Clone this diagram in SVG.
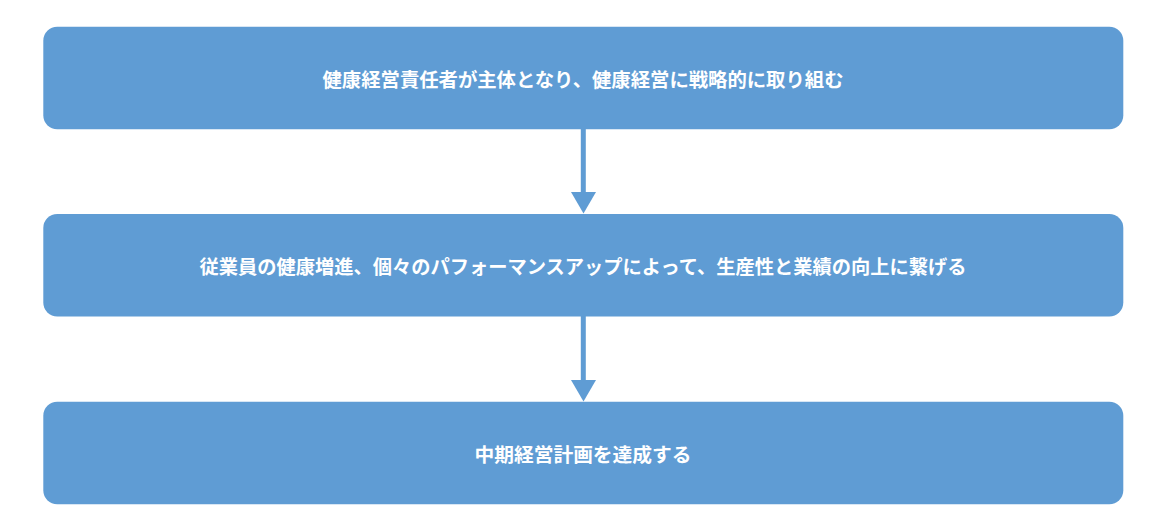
<svg xmlns="http://www.w3.org/2000/svg" width="1170" height="530" viewBox="0 0 1170 530">
<defs>
<style>
.box{fill:#5f9cd4;}
.lbl{fill:#ffffff;font-family:"Noto Sans CJK JP","Noto Sans",sans-serif;font-weight:bold;font-size:19px;text-anchor:middle;dominant-baseline:central;}
.conn{stroke:#5f9cd4;stroke-width:5;fill:none;}
.head{fill:#5f9cd4;}
</style>
</defs>
<rect width="1170" height="530" fill="#ffffff"/>
<g id="connectors">
<line class="conn" x1="583.3" y1="128" x2="583.3" y2="194"/>
<polygon class="head" points="571,192 596,192 583.5,213.5"/>
<line class="conn" x1="583.3" y1="315" x2="583.3" y2="382"/>
<polygon class="head" points="571,380 596,380 583.5,401.5"/>
</g>
<g id="node1">
<rect class="box" x="43.3" y="26.7" width="1080" height="102.6" rx="14" ry="14"/>
<text class="lbl" x="583" y="78" textLength="521" lengthAdjust="spacingAndGlyphs">健康経営責任者が主体となり、健康経営に戦略的に取り組む</text>
</g>
<g id="node2">
<rect class="box" x="43.3" y="214" width="1080" height="102.6" rx="14" ry="14"/>
<text class="lbl" x="583" y="265.3" textLength="767" lengthAdjust="spacingAndGlyphs">従業員の健康増進、個々のパフォーマンスアップによって、生産性と業績の向上に繋げる</text>
</g>
<g id="node3">
<rect class="box" x="43.3" y="401.7" width="1080" height="102.6" rx="14" ry="14"/>
<text class="lbl" x="583" y="453" textLength="217" lengthAdjust="spacingAndGlyphs">中期経営計画を達成する</text>
</g>
</svg>
